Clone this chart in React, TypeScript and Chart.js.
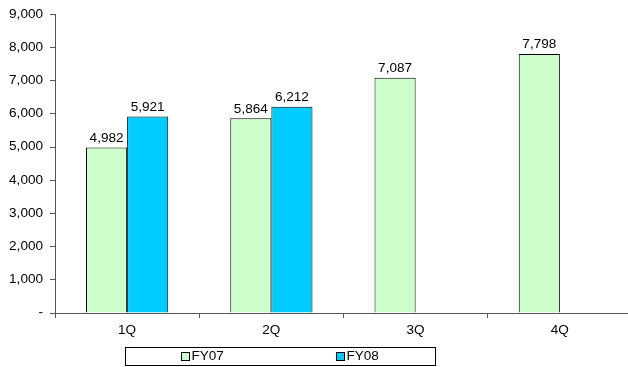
import React, { useEffect, useRef } from "react";
import { Chart, registerables } from "chart.js";

Chart.register(...registerables);

const categories = ["1Q", "2Q", "3Q", "4Q"];
const fy07 = [4982, 5864, 7087, 7798];
const fy08: (number | null)[] = [5921, 6212, null, null];
const seriesNames = ["FY07", "FY08"];
const yTicks = [0, 1000, 2000, 3000, 4000, 5000, 6000, 7000, 8000, 9000];

const FONT = '"Liberation Sans", Arial, sans-serif';
const GREEN = "#CCFFCC";
const BLUE = "#00CCFF";
const STRETCH = 1.13;

const fmt = (v: number) => (v === 0 ? "-" : v.toLocaleString("en-US"));

function drawText(ctx: any, text: string, x: number, y: number, align: "left" | "center" | "right", baseline: any) {
  ctx.save();
  ctx.font = `12px ${FONT}`;
  ctx.fillStyle = "#000";
  ctx.textAlign = align;
  ctx.textBaseline = baseline;
  ctx.translate(x, y);
  ctx.scale(STRETCH, 1);
  ctx.fillText(text, 0, 0);
  ctx.restore();
}

const textLayer = {
  id: "textLayer",
  afterDraw(chart: any) {
    const ctx = chart.ctx;
    // data labels
    chart.data.datasets.forEach((ds: any, i: number) => {
      const meta = chart.getDatasetMeta(i);
      meta.data.forEach((bar: any, j: number) => {
        const v = ds.data[j];
        if (v == null) return;
        drawText(ctx, fmt(v), bar.x, bar.y - 3, "center", "bottom");
      });
    });
    // y tick labels
    const ys = chart.scales.y;
    yTicks.forEach((v) => {
      drawText(ctx, fmt(v), 43, ys.getPixelForValue(v), "right", "middle");
    });
    // x tick labels
    const xs = chart.scales.x;
    categories.forEach((c, i) => {
      drawText(ctx, c, xs.getPixelForValue(i), chart.chartArea.bottom + 18, "center", "middle");
    });
    // legend
    ctx.save();
    const bx = 125.5, by = 347.5, bw = 310, bh = 18;
    ctx.fillStyle = "#fff";
    ctx.fillRect(bx, by, bw, bh);
    ctx.strokeStyle = "#000";
    ctx.lineWidth = 1;
    ctx.strokeRect(bx, by, bw, bh);
    const items = [
      { x: 181.5, color: GREEN, label: seriesNames[0] },
      { x: 336.5, color: BLUE, label: seriesNames[1] },
    ];
    items.forEach((it) => {
      ctx.fillStyle = it.color;
      ctx.fillRect(it.x, 352.5, 8, 8);
      ctx.strokeStyle = "#000";
      ctx.strokeRect(it.x, 352.5, 8, 8);
      drawText(ctx, it.label, it.x + 10, 357, "left", "middle");
    });
    ctx.restore();
  },
};

export default function App() {
  const ref = useRef<HTMLCanvasElement>(null);
  useEffect(() => {
    document.body.style.margin = "0";
    const chart = new Chart(ref.current!, {
      type: "bar",
      data: {
        labels: categories,
        datasets: [
          {
            label: seriesNames[0],
            data: fy07,
            backgroundColor: GREEN,
            borderColor: "#000",
            borderWidth: 1,
          },
          {
            label: seriesNames[1],
            data: fy08,
            backgroundColor: BLUE,
            borderColor: "#000",
            borderWidth: 1,
          },
        ],
      },
      options: {
        animation: false,
        responsive: false,
        maintainAspectRatio: false,
        layout: { padding: { top: 14, left: 0, right: 0, bottom: 0 } },
        datasets: { bar: { categoryPercentage: 0.57, barPercentage: 1 } },
        plugins: { legend: { display: false }, tooltip: { enabled: false } },
        scales: {
          x: {
            grid: {
              display: true,
              drawOnChartArea: false,
              offset: true,
              tickLength: 5,
              color: "#555",
            },
            border: { color: "#555" },
            ticks: { font: { family: FONT, size: 12 }, color: "rgba(0,0,0,0)", padding: 6 },
            afterFit: (s: any) => {
              s.height = 54;
            },
          },
          y: {
            min: 0,
            max: 9000,
            afterBuildTicks: (s: any) => {
              s.ticks = yTicks.map((v) => ({ value: v }));
            },
            grid: { display: true, drawOnChartArea: false, tickLength: 5, color: "#555" },
            border: { color: "#555" },
            ticks: {
              font: { family: FONT, size: 12 },
              color: "rgba(0,0,0,0)",
              padding: 7,
              callback: (v: any) => fmt(Number(v)),
            },
            afterFit: (s: any) => {
              s.width = 55;
            },
          },
        },
      },
      plugins: [textLayer],
    });
    return () => chart.destroy();
  }, []);
  return (
    <div style={{ width: 628, height: 367, overflow: "hidden", position: "relative" }}>
      <canvas ref={ref} width={632} height={367} style={{ display: "block" }} />
    </div>
  );
}
